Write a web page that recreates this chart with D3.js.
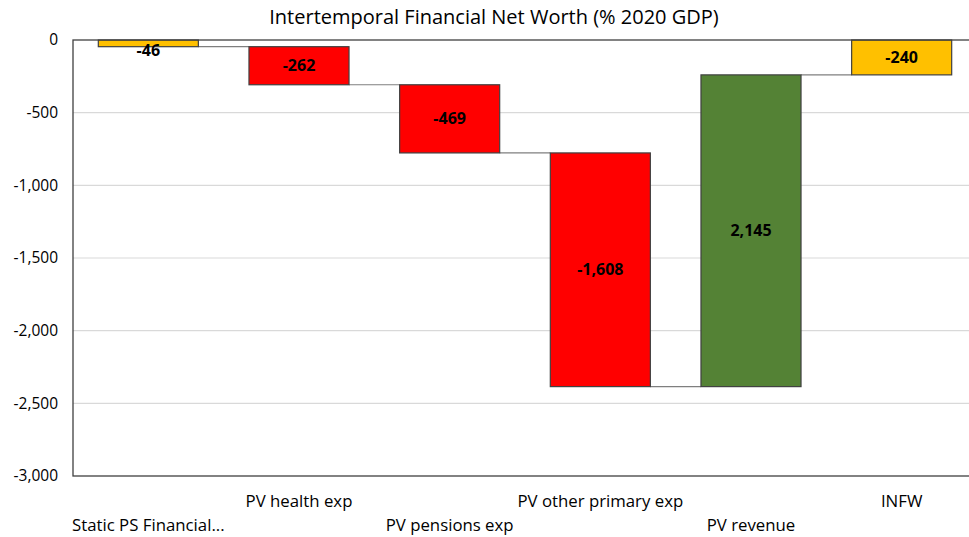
<!DOCTYPE html>
<html><head><meta charset="utf-8">
<script src="https://cdn.jsdelivr.net/npm/d3@7"></script>
<style>body{margin:0;background:#fff;} text{font-family:"Open Sans",sans-serif;}</style>
</head><body><svg id="c" width="969" height="537"></svg>
<script>
const categories = ["Static PS Financial...", "PV health exp", "PV pensions exp", "PV other primary exp", "PV revenue", "INFW"];
const values = [-46, -262, -469, -1608, 2145, -240];
const isTotal = [false, false, false, false, false, true];
const colors = ["#FFC000", "#FF0000", "#FF0000", "#FF0000", "#548235", "#FFC000"];
const labels = ["-46", "-262", "-469", "-1,608", "2,145", "-240"];
const yTicks = [0, -500, -1000, -1500, -2000, -2500, -3000];
const yTickLabels = ["0", "-500", "-1,000", "-1,500", "-2,000", "-2,500", "-3,000"];
const title = "Intertemporal Financial Net Worth (% 2020 GDP)";

const svg = d3.select("#c");
const L = 73, R = 977, T = 40, B = 476;
const x = d3.scaleBand().domain(categories).range([L, R]).paddingInner(0.336).paddingOuter(0.168);
const y = d3.scaleLinear().domain([-3000, 0]).range([B, T]);

let run = 0;
const bars = categories.map((c, i) => {
  let start, end;
  if (isTotal[i]) { start = 0; end = values[i]; run = values[i]; }
  else { start = run; end = run + values[i]; run = end; }
  return {c, start, end, v: values[i], color: colors[i], label: labels[i]};
});

svg.append("g").selectAll("line").data(yTicks.filter(t => t !== 0 && t !== -3000)).join("line")
  .attr("x1", L).attr("x2", R).attr("y1", d => y(d)).attr("y2", d => y(d))
  .attr("stroke", "#d9d9d9").attr("stroke-width", 1.2);

const yAxis = d3.axisLeft(y).tickValues(yTicks).tickSize(0).tickPadding(15)
  .tickFormat((d, i) => yTickLabels[i]);
const ga = svg.append("g").attr("transform", `translate(${L},0)`).call(yAxis);
ga.select(".domain").remove();
ga.selectAll("text").attr("font-size", 15.5).attr("fill", "#000").style("font-family", "'Open Sans',sans-serif");

for (let i = 0; i < bars.length - 1; i++) {
  const yv = bars[i].end;
  svg.append("line")
    .attr("x1", x(bars[i].c) + x.bandwidth()).attr("x2", x(bars[i+1].c))
    .attr("y1", y(yv)).attr("y2", y(yv))
    .attr("stroke", "#7f7f7f").attr("stroke-width", 1.2);
}

svg.append("g").selectAll("rect").data(bars).join("rect")
  .attr("x", d => x(d.c)).attr("width", x.bandwidth())
  .attr("y", d => y(Math.max(d.start, d.end)))
  .attr("height", d => Math.abs(y(d.start) - y(d.end)))
  .attr("fill", d => d.color).attr("stroke", "#404040").attr("stroke-width", 1.2);

svg.append("g").selectAll("text").data(bars).join("text")
  .attr("x", d => x(d.c) + x.bandwidth() / 2)
  .attr("y", d => {
    const h = Math.abs(y(d.start) - y(d.end));
    const mid = (y(d.start) + y(d.end)) / 2;
    return h < 20 ? y(Math.min(d.start, d.end)) + 4 : mid;
  })
  .attr("dy", "0.35em").attr("text-anchor", "middle")
  .attr("font-size", 16).attr("font-weight", "bold").attr("fill", "#000")
  .text(d => d.label);

svg.append("rect").attr("x", L).attr("y", T).attr("width", R - L).attr("height", B - T)
  .attr("fill", "none").attr("stroke", "#404040").attr("stroke-width", 1.3);

svg.append("g").selectAll("text").data(categories).join("text")
  .attr("x", d => x(d) + x.bandwidth() / 2)
  .attr("y", (d, i) => i % 2 === 0 ? 525 : 501)
  .attr("dy", "0.35em").attr("text-anchor", "middle")
  .attr("font-size", 16.8).attr("fill", "#000")
  .text(d => d);

svg.append("text").attr("x", 494).attr("y", 17).attr("dy", "0.35em").attr("text-anchor", "middle")
  .attr("font-size", 20).attr("fill", "#000").text(title);
</script></body></html>
